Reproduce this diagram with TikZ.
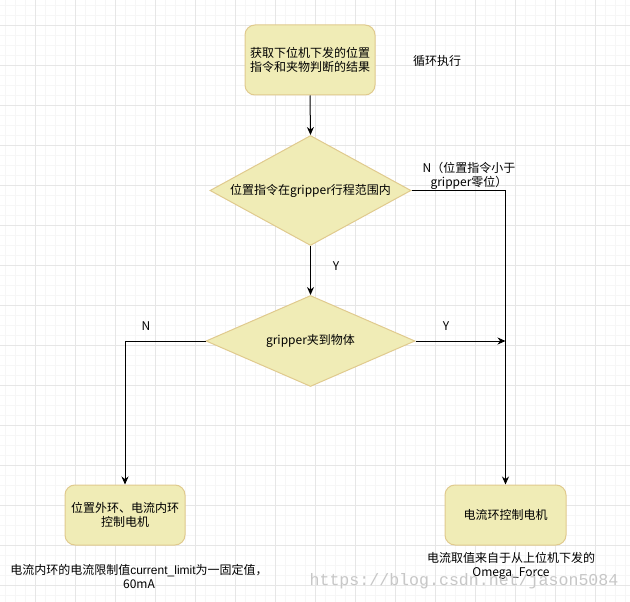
\documentclass[tikz,border=0pt]{standalone}
\usepackage{fontspec}
\setmainfont{Noto Sans CJK SC}
\newfontfamily\wmfont{Liberation Mono}
\newfontfamily\latinfont{Liberation Sans}
\usetikzlibrary{shapes.geometric,arrows.meta}
\definecolor{boxfill}{RGB}{240,236,182}
\definecolor{boxline}{RGB}{224,202,142}
\definecolor{gridminor}{RGB}{246,246,246}
\definecolor{gridmajor}{RGB}{230,230,230}
\begin{document}
\begin{tikzpicture}[x=1pt,y=-1pt,
  txt/.style={font=\fontsize{12}{14}\selectfont, align=center, inner sep=0pt},
  procbox/.style={txt, draw=boxline, fill=boxfill, line width=1pt, rounded corners=10pt},
  decision/.style={txt, diamond, draw=boxline, fill=boxfill, line width=1pt},
  flow/.style={draw=black, line width=1pt, -{Stealth[length=8pt,width=7pt]}},
  gminor/.style={draw=gridminor, line width=0.8pt},
  gmajor/.style={draw=gridmajor, line width=0.8pt}]
\path[use as bounding box, fill=white] (0,0) rectangle (630,602);
% grid
\foreach \g in {5,15,...,625} \draw[gminor] (\g,0) -- (\g,602);
\foreach \g in {5,15,...,595} \draw[gminor] (0,\g) -- (630,\g);
\foreach \g in {35,75,...,595} \draw[gmajor] (\g,0) -- (\g,602);
\foreach \g in {25,65,...,585} \draw[gmajor] (0,\g) -- (630,\g);
% nodes
\node[procbox, minimum width=130, minimum height=70] (start) at (310,60) {获取下位机下发的位置\\指令和夹物判断的结果};
\node[txt] (loop) at (437,61) {循环执行};
\node[decision, minimum width=201, minimum height=110, aspect=1.8] (d1) at (310.5,190.5) {位置指令在gripper行程范围内};
\node[decision, minimum width=209, minimum height=91, aspect=2.3] (d2) at (310.5,341) {gripper夹到物体};
\node[procbox, minimum width=120, minimum height=60] (lb) at (125,515) {位置外环、电流内环\\控制电机};
\node[procbox, minimum width=121, minimum height=60] (rb) at (505.5,515) {电流环控制电机};
% labels
\node[txt] (n1) at (469,176) {N（位置指令小于\\gripper零位）};
\node[txt] (y1) at (336,266) {Y};
\node[txt] (n2) at (146,326) {N};
\node[txt] (y2) at (446,326) {Y};
\node[txt] (note1) at (139,576) {电流内环的电流限制值{\latinfont current\_limit}为一固定值，\\60mA};
\node[txt] (note2) at (511,566) {电流取值来自于从上位机下发的\\Omega\_Force};
\node[inner sep=0pt, text=black!22, font=\wmfont\fontsize{16.6}{18}\selectfont] (wm) at (464,581) {https://blog.csdn.net/jason5084};
% connectors
\draw[flow] (start.south) -- (d1.north);
\draw[flow] (d1.south) -- (d2.north);
\draw[flow] (d1.east) -| (rb.north);
\draw[flow] (d2.east) -- (d2.east -| rb.north);
\draw[flow] (d2.west) -| (lb.north);
\end{tikzpicture}
\end{document}
